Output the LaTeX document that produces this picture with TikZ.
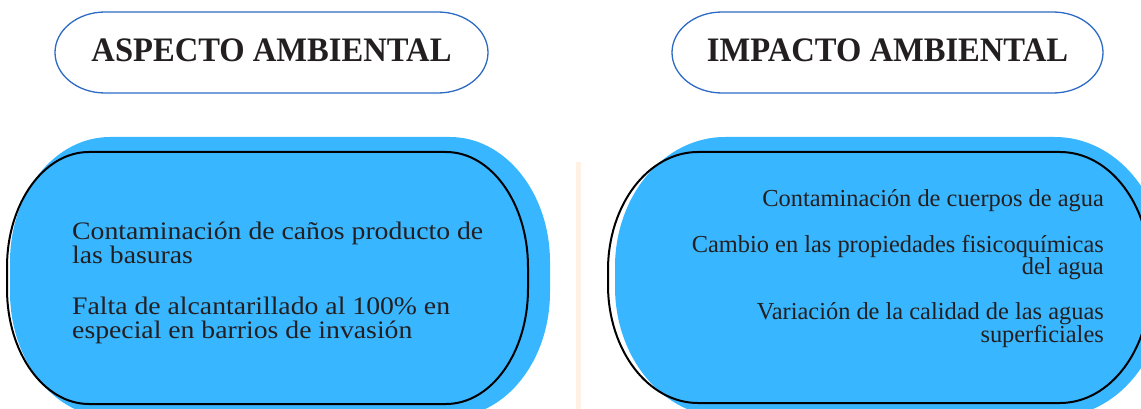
\documentclass[tikz,border=0pt]{standalone}
\usepackage{fontspec}
\setmainfont{Liberation Serif}
\newfontfamily\bodyL[FakeStretch=1.1]{Liberation Serif}
\newfontfamily\titlefont[FakeStretch=0.95]{Liberation Serif}
\definecolor{ink}{HTML}{231F20}
\definecolor{blob}{HTML}{38B6FF}
\definecolor{pillline}{HTML}{2D6BC4}
\definecolor{divider}{HTML}{FFF2E4}
\tikzset{
  rr/.style n args={6}{insert path={
    ({#1+#5},#2) -- ({#3-#5},#2)
    .. controls ({#3-0.4477*#5},#2) and (#3,{#2+0.4477*#6}) .. (#3,{#2+#6})
    -- (#3,{#4-#6})
    .. controls (#3,{#4-0.4477*#6}) and ({#3-0.4477*#5},#4) .. ({#3-#5},#4)
    -- ({#1+#5},#4)
    .. controls ({#1+0.4477*#5},#4) and (#1,{#4-0.4477*#6}) .. (#1,{#4-#6})
    -- (#1,{#2+#6})
    .. controls (#1,{#2+0.4477*#6}) and ({#1+0.4477*#5},#2) .. ({#1+#5},#2)
    -- cycle}},
  titletext/.style={font=\titlefont\fontsize{34.3}{36}\selectfont\bfseries, text=ink, anchor=base, inner sep=0pt},
  bodyleft/.style={font=\bodyL\fontsize{25.2}{24}\selectfont, text=ink, anchor=base west, inner sep=0pt},
  bodyright/.style={font=\fontsize{24.4}{24}\selectfont, text=ink, anchor=base east, inner sep=0pt},
  pill/.style={draw=pillline, line width=1.3pt},
  blobfill/.style={fill=blob},
  bloboutline/.style={draw=black, line width=2pt},
  divline/.style={draw=divider, line width=5pt},
}
\begin{document}
\begin{tikzpicture}[x=1pt,y=-1pt]
\useasboundingbox (0,0) rectangle (1141,409);
\begin{scope}
\clip (0,0) rectangle (1141,409);
% title pills
\path[pill, rr={55}{12}{488}{93}{50}{40.5}];
\path[pill, rr={672}{12}{1103}{93}{50}{40.5}];
% blue blobs
\path[blobfill, rr={10}{137}{550}{417}{100}{125}];
\path[blobfill, rr={615}{137}{1165}{417}{110}{130}];
% black outlines
\path[bloboutline, rr={7}{152}{528}{404}{82}{115}];
\path[bloboutline, rr={608}{152}{1150}{403}{90}{118}];
% divider
\coordinate (dtop) at (578,162);
\coordinate (dbot) at (578,409);
\draw[divline] (dtop) -- (dbot);
\end{scope}
% titles
\node[titletext] (t1) at (271.5,62) {ASPECTO AMBIENTAL};
\node[titletext] (t2) at (887.5,62) {IMPACTO AMBIENTAL};
% left text
\node[bodyleft] (l1) at (72,239) {Contaminación de caños producto de};
\node[bodyleft] (l2) at (72,263) {las basuras};
\node[bodyleft] (l3) at (72,314) {Falta de alcantarillado al 100\% en};
\node[bodyleft] (l4) at (72,338) {especial en barrios de invasión};
% right text
\node[bodyright] (r1) at (1104,206) {Contaminación de cuerpos de agua};
\node[bodyright] (r2) at (1104,252) {Cambio en las propiedades fisicoquímicas};
\node[bodyright] (r3) at (1104,274) {del agua};
\node[bodyright] (r4) at (1104,319) {Variación de la calidad de las aguas};
\node[bodyright] (r5) at (1104,342) {superficiales};
\end{tikzpicture}
\end{document}
